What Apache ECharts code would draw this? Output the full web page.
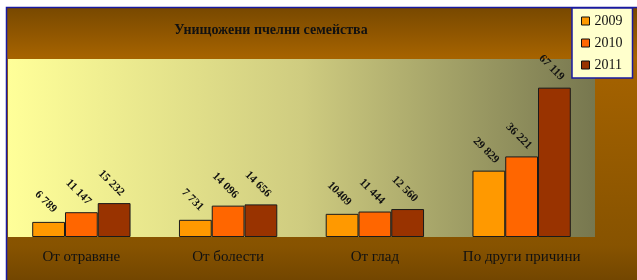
<!DOCTYPE html>
<html>
<head>
<meta charset="utf-8">
<script src="https://cdn.jsdelivr.net/npm/echarts@6/dist/echarts.min.js"></script>
<style>
    html, body { margin: 0; padding: 0; background: #ffffff; }
    #main { width: 637px; height: 280px; }
</style>
</head>
<body>
<div id="main"></div>
<script>
// данни за графиката
var categories = ['От отравяне', 'От болести', 'От глад', 'По други причини'];
var years = ['2009', '2010', '2011'];
var values2009 = [6789, 7731, 10409, 29829];
var values2010 = [11147, 14096, 11444, 36221];
var values2011 = [15232, 14656, 12560, 67119];
var labels2009 = ['6 789', '7 731', '10409', '29 829'];
var labels2010 = ['11 147', '14 096', '11 444', '36 221'];
var labels2011 = ['15 232', '14 656', '12 560', '67 119'];
var barColors = ['#ff9900', '#ff6600', '#993300'];

var myChart = echarts.init(document.getElementById('main'));

function makeSeries(idx, data, texts) {
    return {
        name: years[idx],
        type: 'bar',
        barGap: '0%',
        barCategoryGap: '33%',
        data: data,
        itemStyle: {
            color: barColors[idx],
            borderColor: '#1a1a1a',
            borderWidth: 1
        },
        label: {
            show: true,
            position: 'top',
            distance: 20,
            rotate: -45,
            align: 'center',
            verticalAlign: 'middle',
            offset: [-2, 2],
            fontFamily: 'Liberation Serif',
            fontWeight: 'bold',
            fontSize: 11.5,
            color: '#111',
            formatter: function (p) { return texts[p.dataIndex]; }
        }
    };
}

var option = {
    backgroundColor: '#ffffff',
    animation: false,
    graphic: [{
        type: 'rect',
        z: -10,
        shape: { x: 6.5, y: 7.5, width: 640, height: 280 },
        style: {
            fill: new echarts.graphic.LinearGradient(0, 0, 0, 1, [
                { offset: 0, color: '#774800' },
                { offset: 0.18, color: '#a66300' },
                { offset: 0.85, color: '#875300' },
                { offset: 1, color: '#6e4300' }
            ]),
            stroke: '#1a1aa0',
            lineWidth: 1.5
        }
    }],
    title: {
        text: 'Унищожени пчелни семейства',
        left: 266,
        top: 18,
        textAlign: 'center',
        textStyle: {
            fontFamily: 'Liberation Serif',
            fontWeight: 'bold',
            fontSize: 14,
            color: '#111'
        }
    },
    legend: {
        data: years,
        orient: 'vertical',
        left: 572,
        top: 8,
        width: 65,
        padding: [6, 10, 6, 9],
        itemGap: 8,
        itemWidth: 8,
        itemHeight: 8,
        icon: 'rect',
        backgroundColor: '#ffffcc',
        borderColor: '#1a1aa0',
        borderWidth: 1.5,
        textStyle: {
            fontFamily: 'Liberation Serif',
            fontSize: 14,
            color: '#111'
        },
        itemStyle: { borderColor: '#111', borderWidth: 1 }
    },
    grid: {
        left: 8,
        right: 42,
        top: 59,
        bottom: 43,
        show: true,
        borderWidth: 0,
        backgroundColor: new echarts.graphic.LinearGradient(0, 0, 1, 0, [
            { offset: 0, color: '#ffff99' },
            { offset: 0.5, color: '#cfcc80' },
            { offset: 1, color: '#77774f' }
        ])
    },
    xAxis: {
        type: 'category',
        data: categories,
        axisLine: { show: false },
        axisTick: { show: false },
        axisLabel: {
            interval: 0,
            margin: 13,
            fontFamily: 'Liberation Serif',
            fontSize: 15,
            color: '#111'
        }
    },
    yAxis: {
        type: 'value',
        min: 0,
        max: 80000,
        show: false,
        splitLine: { show: false }
    },
    series: [
        makeSeries(0, values2009, labels2009),
        makeSeries(1, values2010, labels2010),
        makeSeries(2, values2011, labels2011)
    ]
};
myChart.setOption(option);
</script>
</body>
</html>
